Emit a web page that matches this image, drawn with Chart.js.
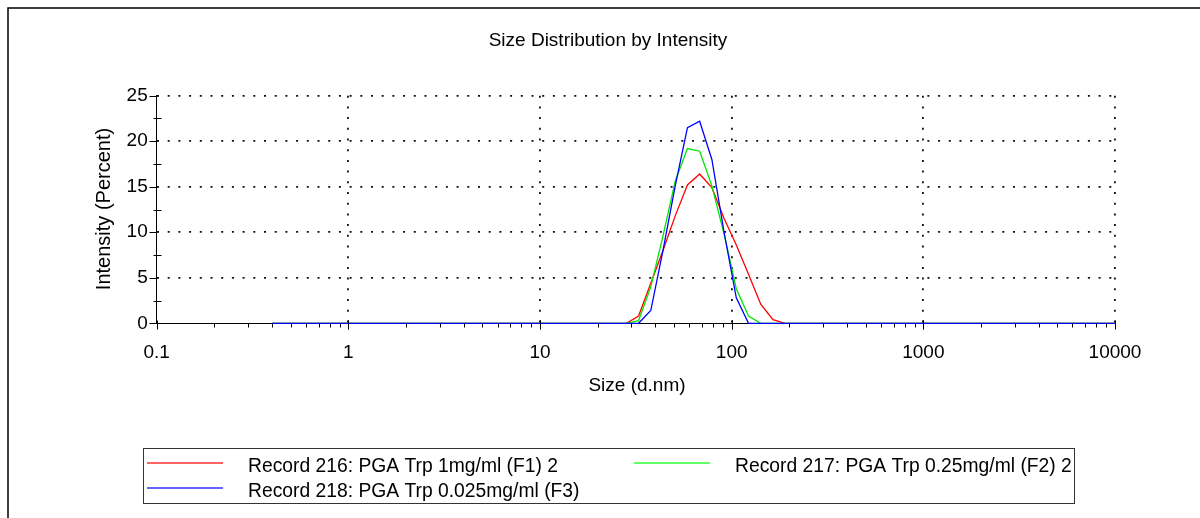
<!DOCTYPE html>
<html>
<head>
<meta charset="utf-8">
<script src="https://cdn.jsdelivr.net/npm/chart.js@4.4.1/dist/chart.umd.min.js"></script>
<style>
  html, body { margin: 0; padding: 0; background: #fff; }
  #wrap { width: 1200px; height: 518px; position: relative; }
</style>
</head>
<body>
<div id="wrap"><canvas id="sizeChart" width="1200" height="518"></canvas></div>
<script>
// size classes (d.nm)
const sizes = [0.4, 0.4632, 0.5365, 0.6213, 0.7195, 0.8332, 0.9649, 1.117, 1.294, 1.499,
  1.736, 2.01, 2.328, 2.696, 3.122, 3.615, 4.187, 4.849, 5.615, 6.503,
  7.531, 8.721, 10.1, 11.7, 13.54, 15.69, 18.17, 21.04, 24.36, 28.21,
  32.67, 37.84, 43.82, 50.75, 58.77, 68.06, 78.82, 91.28, 105.7, 122.4,
  141.8, 164.2, 190.1, 220.2, 255.0, 295.3, 342.0, 396.1, 458.7, 531.2,
  615.1, 712.4, 825.0, 955.4, 1106, 1281, 1484, 1718, 1990, 2305,
  2669, 3091, 3580, 4145, 4801, 5560, 6439, 7456, 8635, 10000];

// intensity (%)
const rec216 = [0, 0, 0, 0, 0, 0, 0, 0, 0, 0,
  0, 0, 0, 0, 0, 0, 0, 0, 0, 0,
  0, 0, 0, 0, 0, 0, 0, 0, 0, 0,
  0.8, 4.4, 8.0, 11.8, 15.2, 16.4, 14.9, 11.5, 8.6, 5.4,
  2.1, 0.4, 0, 0, 0, 0, 0, 0, 0, 0,
  0, 0, 0, 0, 0, 0, 0, 0, 0, 0,
  0, 0, 0, 0, 0, 0, 0, 0, 0, 0];
const rec217 = [0, 0, 0, 0, 0, 0, 0, 0, 0, 0,
  0, 0, 0, 0, 0, 0, 0, 0, 0, 0,
  0, 0, 0, 0, 0, 0, 0, 0, 0, 0,
  0.3, 4.0, 9.6, 15.6, 19.2, 18.9, 15.1, 9.8, 3.8, 0.8,
  0, 0, 0, 0, 0, 0, 0, 0, 0, 0,
  0, 0, 0, 0, 0, 0, 0, 0, 0, 0,
  0, 0, 0, 0, 0, 0, 0, 0, 0, 0];
const rec218 = [0, 0, 0, 0, 0, 0, 0, 0, 0, 0,
  0, 0, 0, 0, 0, 0, 0, 0, 0, 0,
  0, 0, 0, 0, 0, 0, 0, 0, 0, 0,
  0, 1.4, 8.0, 15.1, 21.5, 22.2, 18.0, 10.0, 2.8, 0,
  0, 0, 0, 0, 0, 0, 0, 0, 0, 0,
  0, 0, 0, 0, 0, 0, 0, 0, 0, 0,
  0, 0, 0, 0, 0, 0, 0, 0, 0, 0];

const xTicks = [0.1, 1, 10, 100, 1000, 10000];
const xTickLabels = ['0.1', '1', '10', '100', '1000', '10000'];
const seriesNames = [
  'Record 216: PGA Trp 1mg/ml (F1) 2',
  'Record 217: PGA Trp 0.25mg/ml (F2) 2',
  'Record 218: PGA Trp 0.025mg/ml (F3)'
];

const FONT = '"Liberation Sans", Arial, sans-serif';
const toPts = arr => sizes.map((s, i) => ({ x: s, y: arr[i] }));

// frame, titles, tick marks and legend
const decor = {
  id: 'decor',
  afterDraw(chart) {
    const c = chart.ctx;
    const xs = chart.scales.x, ys = chart.scales.y;
    const y0 = Math.round(ys.getPixelForValue(0)) + 0.5;
    const xl = Math.round(xs.left) + 0.5;
    c.save();
    c.strokeStyle = '#000';
    c.lineWidth = 1;
    c.beginPath();
    // x ticks
    for (let e = -1; e <= 3; e++) {
      const d = Math.pow(10, e);
      for (let k = 1; k <= 10; k++) {
        const px = Math.round(xs.getPixelForValue(k * d)) + 0.5;
        if (k === 1 || k === 10) { c.moveTo(px, y0 - 3); c.lineTo(px, y0 + 6); }
        else { c.moveTo(px, y0); c.lineTo(px, y0 + 4); }
      }
    }
    // y ticks
    for (let v = 0; v <= 25; v += 2.5) {
      const py = Math.round(ys.getPixelForValue(v)) + 0.5;
      if (v % 5 === 0) { c.moveTo(xl - 8, py); c.lineTo(xl, py); }
      else { c.moveTo(xl - 4, py); c.lineTo(xl + 4, py); }
    }
    c.stroke();

    // outer frame
    c.lineWidth = 1.5;
    c.beginPath();
    c.moveTo(8, 518); c.lineTo(8, 8); c.lineTo(1200, 8);
    c.stroke();

    c.fillStyle = '#000';
    c.textAlign = 'center';
    c.textBaseline = 'middle';
    c.font = '19px ' + FONT;
    c.fillText('Size Distribution by Intensity', 608, 41);
    c.fillText('Size (d.nm)', 637, 386);
    c.save();
    c.translate(104, 209);
    c.rotate(-Math.PI / 2);
    c.font = '20px ' + FONT;
    c.fillText('Intensity (Percent)', 0, 0);
    c.restore();

    // legend
    c.lineWidth = 1;
    c.strokeStyle = '#333';
    c.strokeRect(143.5, 448.5, 931, 55);
    const rows = [
      { x: 147, tx: 248, y: 463, col: '#ff6464' },
      { x: 634, tx: 735, y: 463, col: '#64ff64' },
      { x: 147, tx: 248, y: 488, col: '#6464ff' }
    ];
    c.font = '19.3px ' + FONT;
    c.textAlign = 'left';
    rows.forEach((r, i) => {
      c.strokeStyle = r.col;
      c.lineWidth = 2;
      c.beginPath();
      c.moveTo(r.x, r.y); c.lineTo(r.x + 76, r.y);
      c.stroke();
      c.fillText(seriesNames[i], r.tx, r.y + 4);
    });
    c.restore();
  }
};

const ctx = document.getElementById('sizeChart').getContext('2d');
new Chart(ctx, {
  type: 'line',
  data: {
    datasets: [
      { label: seriesNames[0], data: toPts(rec216), borderColor: '#ff0000', borderWidth: 1.3, pointRadius: 0, order: 3, clip: 2 },
      { label: seriesNames[1], data: toPts(rec217), borderColor: '#00e600', borderWidth: 1.3, pointRadius: 0, order: 2, clip: 2 },
      { label: seriesNames[2], data: toPts(rec218), borderColor: '#0000ff', borderWidth: 1.3, pointRadius: 0, order: 1, clip: 2 }
    ]
  },
  options: {
    responsive: false,
    animation: false,
    layout: { padding: { left: 0, top: 95.7, right: 85, bottom: 0 } },
    plugins: {
      legend: { display: false },
      tooltip: { enabled: false },
      title: { display: false }
    },
    scales: {
      x: {
        type: 'logarithmic',
        min: 0.1,
        max: 10000,
        afterBuildTicks: s => { s.ticks = xTicks.map(v => ({ value: v })); },
        afterFit: s => { s.height = 518 - 323.3; },
        ticks: {
          autoSkip: false,
          maxRotation: 0,
          padding: 18,
          color: '#000',
          font: { family: FONT, size: 19 },
          callback: (v, i) => xTickLabels[i]
        },
        grid: {
          drawTicks: false,
          lineWidth: 1.8,
          color: c => (c.tick && c.tick.value > 0.1) ? '#111' : 'rgba(0,0,0,0)'
        },
        border: { display: true, color: '#000', width: 1, dash: [2, 8.7] }
      },
      y: {
        min: 0,
        max: 25,
        afterFit: s => { s.width = 156.7; },
        ticks: {
          stepSize: 5,
          padding: 9,
          color: '#000',
          font: { family: FONT, size: 19 }
        },
        grid: {
          drawTicks: false,
          lineWidth: 1.8,
          color: c => (c.tick && c.tick.value > 0) ? '#111' : 'rgba(0,0,0,0)'
        },
        border: { display: true, color: '#000', width: 1, dash: [2, 8.7] }
      }
    }
  },
  plugins: [decor]
});
</script>
</body>
</html>
